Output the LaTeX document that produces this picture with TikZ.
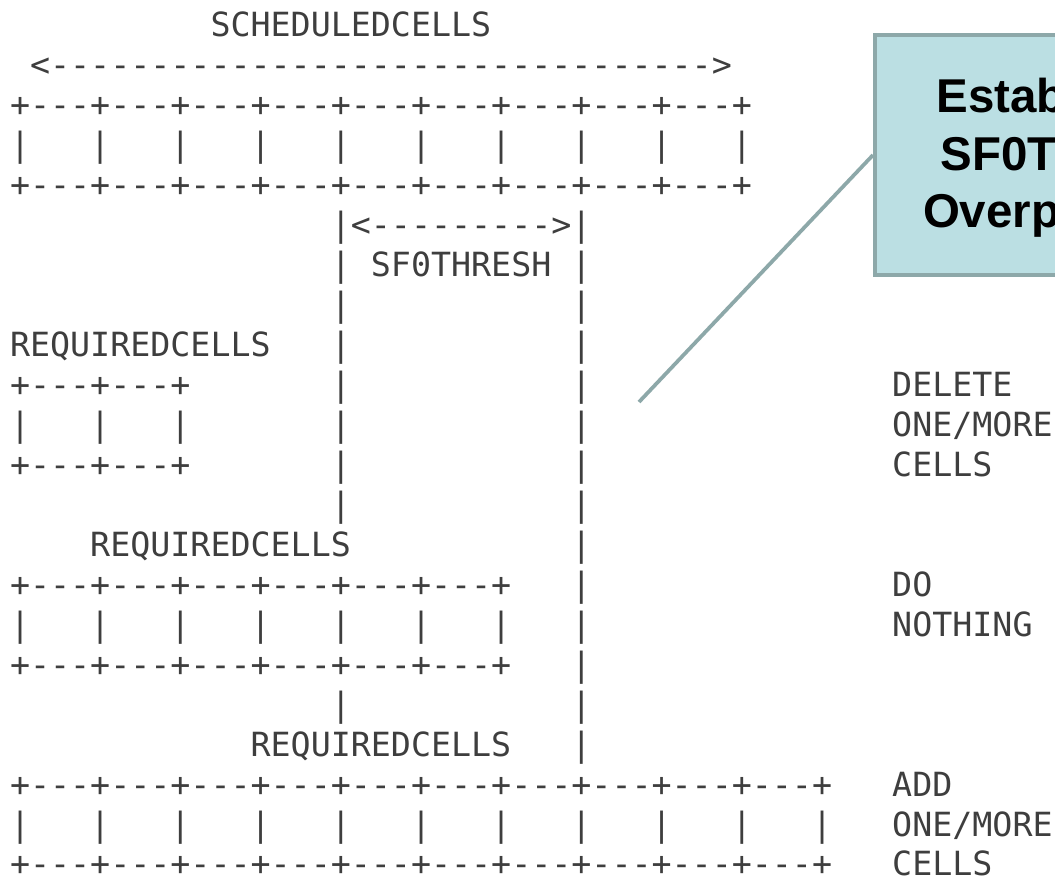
\documentclass[tikz,border=0pt]{standalone}
\usepackage{fontspec}
\setmonofont{DejaVu Sans Mono}
\newfontfamily\calloutfont{Liberation Sans}

\definecolor{asciiink}{HTML}{3E3E3E}
\definecolor{calloutfill}{HTML}{BBDFE3}
\definecolor{calloutedge}{HTML}{8DA8A9}

% place a run of monospaced text at grid column #2, text row #3
\newcommand\asc[4]{\node[ascii] (#1) at ({10+20.05*#2},{36.6+39.97*#3}) {#4};}

\begin{document}
\begin{tikzpicture}[x=0.75pt,y=-0.75pt,
  ascii/.style={anchor=base west, inner sep=0pt, outer sep=0pt, text=asciiink,
    font=\ttfamily\fontsize{24.98pt}{30pt}\selectfont},
  callout box/.style={draw=calloutedge, fill=calloutfill, line width=3pt,
    rectangle, inner sep=0pt, minimum width=300pt, minimum height=180pt},
  calltext/.style={anchor=base west, inner sep=0pt, outer sep=0pt, text=black,
    font=\calloutfont\bfseries\fontsize{35.6pt}{42pt}\selectfont},
  pointer/.style={draw=calloutedge, line width=2.8pt}]

\useasboundingbox[fill=white] (0,0) rectangle (1055,877);

% scheduled cells
\asc{sched}{10}{0}{SCHEDULEDCELLS}
\asc{schedspan}{1}{1}{<---------------------------------{}>}
\asc{schedtop}{0}{2}{+---+---+---+---+---+---+---+---+---+}
\asc{schedmid}{0}{3}{|~~~|~~~|~~~|~~~|~~~|~~~|~~~|~~~|~~~|}
\asc{schedbot}{0}{4}{+---+---+---+---+---+---+---+---+---+}

% threshold band
\asc{thrspan}{16}{5}{|<--------->|}
\asc{thrl6}{16}{6}{|}
\asc{thrname}{18}{6}{SF0THRESH}
\asc{thrr6}{28}{6}{|}
\asc{thrl7}{16}{7}{|}
\asc{thrr7}{28}{7}{|}

% case 1: fewer scheduled than required
\asc{req1}{0}{8}{REQUIREDCELLS}
\asc{thrl8}{16}{8}{|}
\asc{thrr8}{28}{8}{|}
\asc{req1top}{0}{9}{+---+---+}
\asc{thrl9}{16}{9}{|}
\asc{thrr9}{28}{9}{|}
\asc{del1}{44}{9}{DELETE}
\asc{req1mid}{0}{10}{|~~~|~~~|}
\asc{thrl10}{16}{10}{|}
\asc{thrr10}{28}{10}{|}
\asc{del2}{44}{10}{ONE/MORE}
\asc{req1bot}{0}{11}{+---+---+}
\asc{thrl11}{16}{11}{|}
\asc{thrr11}{28}{11}{|}
\asc{del3}{44}{11}{CELLS}
\asc{thrl12}{16}{12}{|}
\asc{thrr12}{28}{12}{|}

% case 2: within threshold
\asc{req2}{4}{13}{REQUIREDCELLS}
\asc{thrr13}{28}{13}{|}
\asc{req2top}{0}{14}{+---+---+---+---+---+---+}
\asc{thrr14}{28}{14}{|}
\asc{nop1}{44}{14}{DO}
\asc{req2mid}{0}{15}{|~~~|~~~|~~~|~~~|~~~|~~~|}
\asc{thrr15}{28}{15}{|}
\asc{nop2}{44}{15}{NOTHING}
\asc{req2bot}{0}{16}{+---+---+---+---+---+---+}
\asc{thrr16}{28}{16}{|}
\asc{thrl17}{16}{17}{|}
\asc{thrr17}{28}{17}{|}

% case 3: more required than scheduled
\asc{req3}{12}{18}{REQUIREDCELLS}
\asc{thrr18}{28}{18}{|}
\asc{req3top}{0}{19}{+---+---+---+---+---+---+---+---+---+---+}
\asc{add1}{44}{19}{ADD}
\asc{req3mid}{0}{20}{|~~~|~~~|~~~|~~~|~~~|~~~|~~~|~~~|~~~|~~~|}
\asc{add2}{44}{20}{ONE/MORE}
\asc{req3bot}{0}{21}{+---+---+---+---+---+---+---+---+---+---+}
\asc{add3}{44}{21}{CELLS}

% callout
\begin{scope}
  \clip (0,0) rectangle (1055,877);
  \node[callout box, anchor=north west] (callout) at (873,33) {};
  \coordinate (tip) at (639,402);
  \draw[pointer] (callout.west) -- (tip);
  \node[calltext] (cl1) at (936.5,112.5) {Estab};
  \node[calltext] (cl2) at (940.5,170.5) {SF0T};
  \node[calltext] (cl3) at (923,228) {Overp};
\end{scope}
\end{tikzpicture}
\end{document}
